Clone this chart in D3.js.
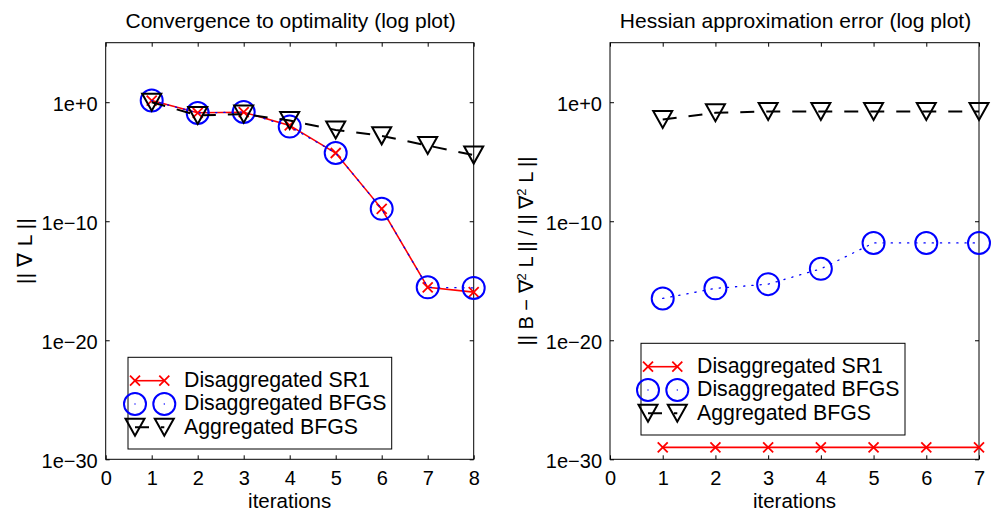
<!DOCTYPE html>
<html>
<head>
<meta charset="utf-8">
<script src="https://cdn.jsdelivr.net/npm/d3@7"></script>
<style>
  body { margin: 0; background: #fff; }
  svg text { font-family: "Liberation Sans", Arial, sans-serif; fill: #000; }
</style>
</head>
<body>
<svg id="chart" width="991" height="516"></svg>
<script>
// ---- data ----
const seriesNames = ["Disaggregated SR1", "Disaggregated BFGS", "Aggregated BFGS"];

const itersLeft = [1, 2, 3, 4, 5, 6, 7, 8];
const gradSR1  = [1.38, 0.129, 0.145, 0.0112, 5.4e-5, 1.1e-9, 2.8e-16, 1.1e-16];
const gradDBFGS = [1.38, 0.125, 0.15, 0.0089, 5.4e-5, 1.1e-9, 2.8e-16, 2.5e-16];
const gradABFGS = [1.0, 0.078, 0.1, 0.029, 0.0047, 0.0015, 2.3e-4, 3.6e-5];

const itersRight = [1, 2, 3, 4, 5, 6, 7];
const hessSR1  = [1e-29, 1e-29, 1e-29, 1e-29, 1e-29, 1e-29, 1e-29];
const hessDBFGS = [3.3e-17, 2.3e-16, 5.2e-16, 1e-14, 1.5e-12, 1.5e-12, 1.5e-12];
const hessABFGS = [0.035, 0.13, 0.166, 0.166, 0.166, 0.166, 0.166];

const yTicks = [1e0, 1e-10, 1e-20, 1e-30];
const yTickLabels = ["1e+0", "1e\u221210", "1e\u221220", "1e\u221230"];

const svg = d3.select("#chart");
const plotTop = 42.7, plotBottom = 459.3;
const fs = "20px";

function triPath(w, h) {
  return "M" + (-w / 2) + "," + (-h / 2) + "L" + (w / 2) + "," + (-h / 2) + "L0," + (h / 2) + "Z";
}
function crossPath(s) {
  return "M" + (-s) + "," + (-s) + "L" + s + "," + s + "M" + (-s) + "," + s + "L" + s + "," + (-s);
}

const styles = [
  { color: "#ff0000", width: 1.6, dash: null, marker: "x" },
  { color: "#0000ff", width: 1.3, dash: "1.2,7", marker: "o" },
  { color: "#000000", width: 2, dash: "14,12", marker: "v" }
];

function drawMarker(g, kind, color) {
  if (kind === "x") {
    g.append("path").attr("d", crossPath(5)).attr("stroke", color).attr("stroke-width", 1.8).attr("fill", "none");
  } else if (kind === "o") {
    g.append("circle").attr("r", 11).attr("stroke", color).attr("stroke-width", 2).attr("fill", "none");
  } else {
    g.append("path").attr("d", triPath(19, 17)).attr("stroke", color).attr("stroke-width", 2)
      .attr("fill", "none").attr("stroke-linejoin", "miter");
  }
}

function panel(opts) {
  const x = d3.scaleLinear().domain([0, opts.xmax]).range([opts.x0, opts.x1]);
  const y = d3.scaleLog().domain([1e-30, 1e5]).range([plotBottom, plotTop]);
  const g = svg.append("g");

  // frame
  g.append("rect").attr("x", opts.x0).attr("y", plotTop)
    .attr("width", opts.x1 - opts.x0).attr("height", plotBottom - plotTop)
    .attr("fill", "none").attr("stroke", "#000").attr("stroke-width", 1);

  const xt = d3.range(0, opts.xmax + 1);

  const ax = g.append("g").attr("transform", "translate(0," + plotBottom + ")")
    .call(d3.axisBottom(x).tickValues(xt).tickFormat(d3.format("d")).tickSize(-4).tickPadding(12));
  ax.selectAll("text").style("font-size", fs);

  g.append("g").attr("transform", "translate(0," + plotTop + ")")
    .call(d3.axisTop(x).tickValues(xt).tickFormat("").tickSize(-4));

  const ay = g.append("g").attr("transform", "translate(" + opts.x0 + ",0)")
    .call(d3.axisLeft(y).tickValues(yTicks).tickFormat((d, i) => yTickLabels[i]).tickSize(-4).tickPadding(8));
  ay.selectAll("text").style("font-size", fs).attr("dy", "0.42em");

  g.append("g").attr("transform", "translate(" + opts.x1 + ",0)")
    .call(d3.axisRight(y).tickValues(yTicks).tickFormat("").tickSize(-4));

  g.selectAll(".domain").remove();
  g.selectAll(".tick line").attr("stroke", "#000");
  g.selectAll(".tick text").attr("font-family", null);

  // title & labels
  g.append("text").attr("x", (opts.x0 + opts.x1) / 2 + 1).attr("y", 28)
    .attr("text-anchor", "middle").style("font-size", "21px").text(opts.title);
  g.append("text").attr("x", (opts.x0 + opts.x1) / 2).attr("y", 508)
    .attr("text-anchor", "middle").style("font-size", "20.5px").text("iterations");

  if (opts.ylabelText) {
    // single-run label, start at the bottom and stretch to the measured length
    g.append("text")
      .attr("transform", "translate(" + opts.ylabelX + "," + opts.ylabelStart + ") rotate(-90)")
      .attr("text-anchor", "start").style("font-size", opts.ylabelSize)
      .attr("textLength", opts.ylabelLength).attr("lengthAdjust", "spacing")
      .text(opts.ylabelText);
  } else {
    const yl = g.append("text")
      .attr("transform", "translate(" + opts.ylabelX + "," + ((plotTop + plotBottom) / 2) + ") rotate(-90)")
      .attr("text-anchor", "middle").style("font-size", opts.ylabelSize);
    opts.ylabel.forEach(part => {
      const t = yl.append("tspan").text(part.t);
      if (part.sup) t.attr("baseline-shift", "super").style("font-size", "13px");
    });
  }

  // series
  opts.series.forEach((vals, si) => {
    const st = styles[si];
    const pts = opts.iters.map((it, i) => [x(it), y(vals[i])]);
    const p = g.append("path").attr("d", d3.line()(pts))
      .attr("fill", "none").attr("stroke", st.color).attr("stroke-width", st.width);
    if (st.dash) p.attr("stroke-dasharray", st.dash);
    if (st.marker === "o") p.attr("stroke-linecap", "round");
    pts.forEach(pt => {
      const m = g.append("g").attr("transform", "translate(" + pt[0] + "," + pt[1] + ")");
      drawMarker(m, st.marker, st.color);
    });
  });

  // legend
  const L = opts.legend;
  const lg = g.append("g").attr("transform", "translate(" + L.x + "," + L.y + ")");
  lg.append("rect").attr("width", L.w).attr("height", L.h)
    .attr("fill", "#fff").attr("stroke", "#000").attr("stroke-width", 1);
  seriesNames.forEach((name, si) => {
    const st = styles[si];
    const yy = 23.4 + si * 23.3;
    if (st.marker !== "o") {
      const ln = lg.append("line").attr("x1", 7).attr("x2", 36.3).attr("y1", yy).attr("y2", yy)
        .attr("stroke", st.color).attr("stroke-width", st.width);
      if (st.dash) ln.attr("stroke-dasharray", st.dash);
    } else {
      // dotted sample shows only a dot inside each circle
      [7, 36.3].forEach(mx => lg.append("circle").attr("cx", mx).attr("cy", yy).attr("r", 0.7).attr("fill", st.color));
    }
    [7, 36.3].forEach(mx => {
      const m = lg.append("g").attr("transform", "translate(" + mx + "," + yy + ")");
      drawMarker(m, st.marker, st.color);
    });
    lg.append("text").attr("x", 56).attr("y", yy).attr("dy", "0.3em")
      .style("font-size", "21.3px").text(name);
  });
}

panel({
  x0: 105.7, x1: 473.7, xmax: 8,
  title: "Convergence to optimality (log plot)",
  ylabelX: 32, ylabelSize: "21px", ylabelStart: 284, ylabelLength: 66,
  ylabelText: "|| \u2207 L ||",
  iters: itersLeft,
  series: [gradSR1, gradDBFGS, gradABFGS],
  legend: { x: 128, y: 357.3, w: 263.7, h: 91.7 }
});

panel({
  x0: 610, x1: 979, xmax: 7,
  title: "Hessian approximation error (log plot)",
  ylabelX: 533, ylabelSize: "20px",
  ylabel: [{ t: "|| B \u2212 \u2207" }, { t: "2", sup: true }, { t: " L || / || \u2207" }, { t: "2", sup: true }, { t: " L ||" }],
  iters: itersRight,
  series: [hessSR1, hessDBFGS, hessABFGS],
  legend: { x: 641, y: 343.3, w: 264, h: 91.7 }
});
</script>
</body>
</html>
